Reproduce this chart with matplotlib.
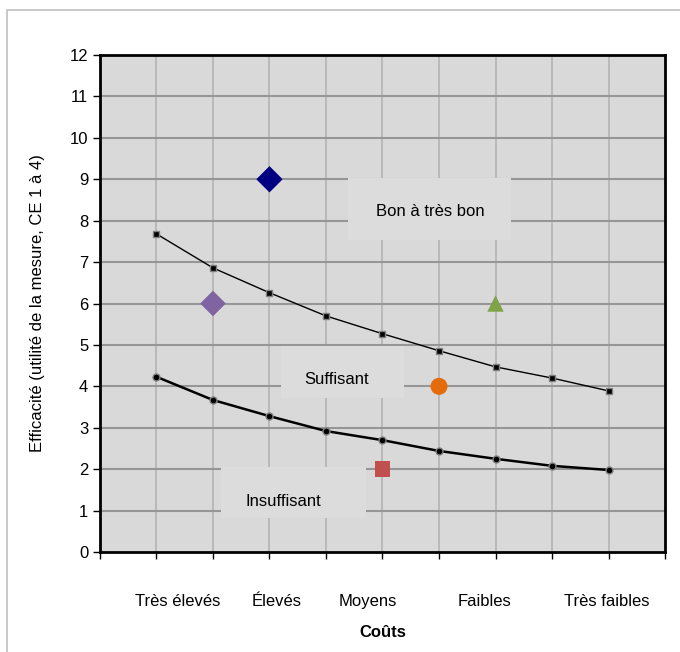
import matplotlib.pyplot as plt
from matplotlib.patches import Rectangle

plt.rcParams['font.family'] = ['Liberation Sans', 'DejaVu Sans']

# Data
steps = [1, 2, 3, 4, 5, 6, 7, 8, 9]
upper_curve = [7.68, 6.86, 6.26, 5.70, 5.27, 4.86, 4.47, 4.20, 3.89]
lower_curve = [4.23, 3.67, 3.28, 2.92, 2.70, 2.44, 2.25, 2.08, 1.98]

measures_x = [3, 2, 5, 6, 7]
measures_y = [9, 6, 2, 4, 6]
measure_markers = ['D', 'D', 's', 'o', '^']
measure_colors = ['#000080', '#8064A2', '#C0504D', '#E46C0A', '#7FA447']
measure_sizes = [180, 170, 130, 150, 140]

cost_labels = ['Très élevés', 'Élevés', 'Moyens', 'Faibles', 'Très faibles']
cost_label_pos = [1.38, 3.13, 4.74, 6.81, 8.97]

zone_labels = ['Bon à très bon', 'Suffisant', 'Insuffisant']
zone_text_pos = [(5.84, 8.21), (4.18, 4.17), (3.24, 1.21)]
zone_boxes = [(4.39, 7.54, 2.88, 1.49), (3.20, 3.72, 2.18, 1.26), (2.14, 0.82, 2.57, 1.23)]

fig = plt.figure(figsize=(6.8, 6.52), dpi=100)
ax = fig.add_axes([0.147, 0.1534, 0.831, 0.7622])

# outer light border
fig.patches.append(Rectangle((7 / 680, -0.01), 1.0, 0.985 + 0.01, transform=fig.transFigure,
                             fill=False, edgecolor='#BFBFBF', linewidth=1.2))

ax.set_facecolor('#D9D9D9')
ax.set_xlim(0, 10)
ax.set_ylim(0, 12)
ax.set_xticks(range(0, 11))
ax.set_xticklabels([])
ax.set_yticks(range(0, 13))
ax.tick_params(axis='y', direction='out', length=5, width=1, labelsize=12)
ax.tick_params(axis='x', direction='out', length=5, width=1)
for x in range(1, 10):
    ax.axvline(x, color='#B3B3B3', lw=1.2, zorder=0.5)
for y in range(1, 12):
    ax.axhline(y, color='#969696', lw=1.5, zorder=0.5)
for sp in ax.spines.values():
    sp.set_linewidth(2)
    sp.set_color('black')

# zone label boxes
for (bx, by, bw, bh), lab, (tx, ty) in zip(zone_boxes, zone_labels, zone_text_pos):
    ax.add_patch(Rectangle((bx, by), bw, bh, facecolor='#DCDCDC', edgecolor='none', zorder=1))
    ax.text(tx, ty, lab, ha='center', va='center', fontsize=12, zorder=2)

# curves
ax.plot(steps, upper_curve, color='black', lw=1, marker='s', markersize=5,
        markerfacecolor='black', markeredgecolor='#808080', markeredgewidth=1, zorder=3)
ax.plot(steps, lower_curve, color='black', lw=1.8, marker='o', markersize=5,
        markerfacecolor='black', markeredgecolor='#808080', markeredgewidth=1, zorder=3)

# measures
for x, y, m, c, s in zip(measures_x, measures_y, measure_markers, measure_colors, measure_sizes):
    ax.scatter([x], [y], marker=m, color=c, s=s, zorder=4, edgecolors='none')

# category labels under the axis
for lab, pos in zip(cost_labels, cost_label_pos):
    ax.text(pos, -1.2, lab, ha='center', va='center', fontsize=12, clip_on=False)

ax.set_xlabel('Coûts', fontsize=12, fontweight='bold', labelpad=44)
ax.set_ylabel('Efficacité (utilité de la mesure, CE 1 à 4)', fontsize=12, labelpad=18)

fig.savefig('out.png', dpi=100)
